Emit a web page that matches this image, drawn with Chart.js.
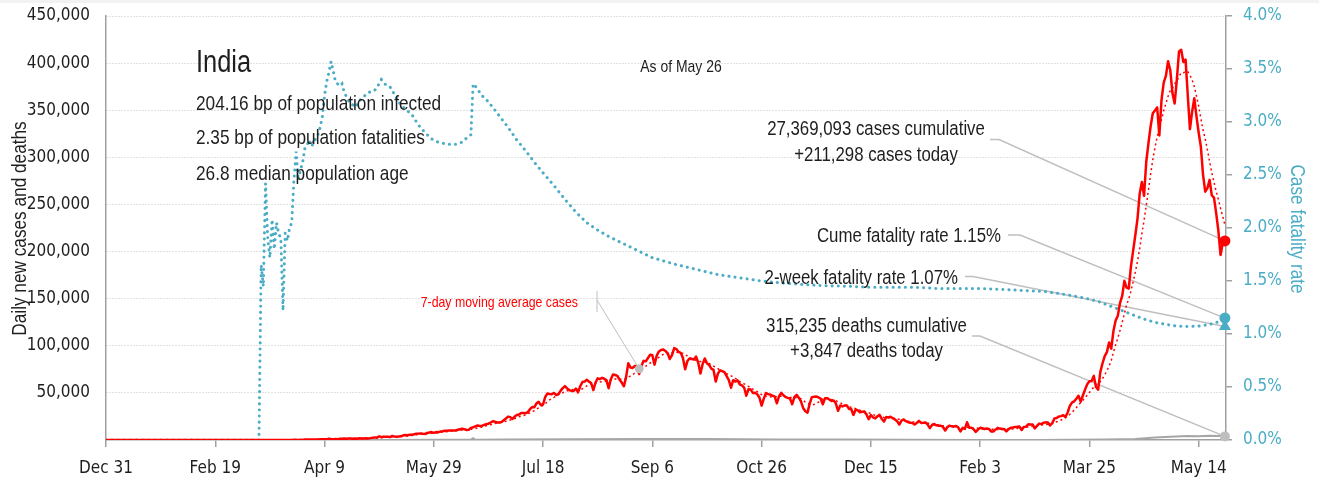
<!DOCTYPE html>
<html>
<head>
<meta charset="utf-8">
<title>India daily cases</title>
<script src="https://cdn.jsdelivr.net/npm/chart.js@4.4.1/dist/chart.umd.min.js"></script>
<style>
  html, body { margin: 0; padding: 0; background: #ffffff; }
  #chart { display: block; }
</style>
</head>
<body>
<canvas id="chart" width="1319" height="480"></canvas>
<script>
// x values are days counted from Dec 31, 2019
const xTickLabels = ["Dec 31", "Feb 19", "Apr 9", "May 29", "Jul 18", "Sep 6", "Oct 26", "Dec 15", "Feb 3", "Mar 25", "May 14"];

// daily new cases, one value per day from day 0
const dailyCases = [
  // Dec 31 - Jan 29
  0,0,0,0,0,0,0,0,0,0, 0,0,0,0,0,0,0,0,0,0, 0,0,0,0,0,0,0,0,0,1,
  // Jan 30 - Feb 29
  0,0,1,1,0,0,0,0,0,0, 0,0,0,0,0,0,0,0,0,0, 0,0,0,0,0,0,0,0,0,0, 0,
  // Mar
  2,1,22,2,1,3,5,9,15,8, 10,10,12,23,8,24,19,29,49,62, 75,77,89,103,75,149,164,106,227,146, 601,
  // Apr
  545,478,515,506,573,565,813,871,854,758, 1243,1031,886,1061,922,1370,1238,1540,1295,1543, 1567,1292,1667,1408,1835,1607,1568,1902,1705,1993,
  // May
  2293,2644,2573,3932,2963,3587,3364,3344,3113,4353, 3607,3524,3763,3942,4987,5242,4970,5611,5609,6088, 6654,6767,6977,6535,6387,7466,7964,8380,7572,8392, 8171,
  // Jun
  8909,9304,9851,9887,9971,9983,9987,9985,10956,11458, 11929,11502,10667,10974,12881,13586,14516,15413,14821,14933, 15968,16922,17296,18552,19906,19459,18522,18653,19148,20903,
  // Jul
  22771,24850,24248,22252,24879,26506,27114,28637,28701,28498, 29429,32695,34956,34884,38902,40425,37148,37724,45720,49310, 48916,48661,49931,47704,48513,52123,55078,57118,54735,52972, 52050,
  // Aug
  52000,54500,50500,57000,61500,62000,64000,62000,60500,53000, 61000,65500,64500,66000,65000,63500,55000,64500,69500,69000, 68000,64000,61000,57000,67000,81500,77000,76500,78500,78000, 70000,
  // Sep
  78500,84000,83500,87000,90500,90000,80000,89500,94000,95500, 96000,94500,92000,86000,90000,97500,96500,93500,92500,87000, 75000,83500,86500,86000,85500,88500,82000,70500,80500,86500,
  // Oct
  81500,79500,75800,74400,62000,70500,74000,73000,72000,67700, 63500,55500,63500,62000,63300,59000,58000,55700,47000,54000, 53500,50000,50100,48600,45100,36500,43900,49900,48600,48300, 47000,
  // Nov
  46000,39000,46500,50000,47500,45500,44700,44000,38000,45600, 47900,44900,41100,34000,30500,29000,38600,45500,45800,46200, 45200,44000,37900,44300,44400,43000,41300,41800,38700,31000,
  // Dec
  36600,35600,36600,36600,33000,32900,26600,32100,31500,29400, 30000,30300,27100,22100,26400,24000,22900,25200,26600,22300, 19600,24300,23950,24700,23100,21800,20000,16400,20500,21800, 20000,
  // Jan 2021
  19100,18200,18100,16500,18100,20300,18100,18200,18600,16300, 12600,15900,16900,15600,15200,15100,13800,10100,13800,15200, 14500,14300,14800,13200,9100,12700,11700,18800,13100,13000, 11400,
  // Feb
  8600,11000,12900,12400,11700,12100,11800,9100,9100,11000, 12900,12100,11700,11600,9100,11600,12900,13200,13900,13990, 14260,10580,13740,14200,16740,16580,16490,12286,
  // Mar
  14989,17407,16838,18327,18711,18599,15388,17921,22854,23285, 24882,25320,26291,24492,28903,35871,39726,40953,43846,46951, 40715,47262,53476,59118,62258,62714,68020,56211,53480,72330, 81466,
  // Apr
  89129,93249,103558,96982,115736,126789,131968,145384,152879,168912, 161736,160694,184372,200739,217353,234692,261500,273810,259170,295041, 314835,332730,346786,349691,352991,323144,360960,379257,386452,401993,
  // May 1 - May 26
  392488,368147,357229,382315,412262,414188,401078,403738,366161,329942, 348421,362727,343144,326098,311170,281386,263533,267334,276110,259551, 257299,240842,222315,196427,208921,211298
];

// daily deaths
const deathDays = [0, 70, 92, 122, 153, 167, 168, 169, 183, 214, 245, 260, 275, 306, 336, 367, 398, 426, 457, 471, 480, 487, 495, 500, 505, 510, 512];
const dailyDeaths = [0, 0, 20, 80, 220, 340, 2000, 330, 440, 770, 1050, 1150, 1150, 470, 480, 240, 110, 110, 460, 1030, 2770, 3500, 4200, 4100, 4500, 4150, 3847];

// cumulative case fatality rate, %
const cfrDays = [
  0, 70, 71, 72, 73, 74, 75, 76, 77, 78,
  79, 80, 81, 82, 83, 84, 85, 86, 87, 88,
  89, 90, 91, 92, 93, 94, 95, 96, 97, 98,
  99, 100, 101, 102, 103, 104, 105, 106, 107, 108,
  109, 110, 111, 112, 113, 114, 115, 116, 117, 118,
  119, 120, 121, 122, 123, 125, 126, 127, 128, 129,
  130, 132, 133, 135, 137, 140, 143, 146, 149, 152,
  156, 160, 163, 165, 167, 168, 169, 170, 172, 175,
  178, 181, 184, 188, 192, 196, 200, 205, 210, 215,
  220, 225, 230, 235, 240, 245, 250, 260, 270, 280,
  290, 300, 310, 320, 330, 340, 350, 360, 370, 380,
  400, 420, 430, 440, 450, 455, 460, 465, 470, 475,
  480, 485, 490, 495, 500, 505, 510, 512
];
const cfrRates = [
  0, 0, 1.65, 1.45, 2.42, 1.9, 1.72, 2.08, 1.8, 2.05,
  1.95, 1.9, 1.22, 1.95, 1.88, 2.0, 2.05, 2.45, 2.72, 2.45,
  2.55, 2.62, 2.75, 2.78, 2.83, 2.77, 2.8, 2.85, 2.88, 2.95,
  3.05, 3.25, 3.38, 3.47, 3.57, 3.48, 3.38, 3.36, 3.34, 3.36,
  3.28, 3.24, 3.2, 3.17, 3.16, 3.14, 3.17, 3.2, 3.22, 3.24,
  3.26, 3.27, 3.29, 3.3, 3.3, 3.36, 3.4, 3.38, 3.35, 3.34,
  3.33, 3.26, 3.22, 3.16, 3.12, 3.07, 2.97, 2.9, 2.84, 2.81,
  2.79, 2.79, 2.81, 2.85, 2.88, 3.36, 3.34, 3.31, 3.25, 3.19,
  3.11, 3.03, 2.95, 2.83, 2.73, 2.62, 2.52, 2.4, 2.27, 2.15,
  2.05, 1.98, 1.92, 1.87, 1.82, 1.77, 1.72, 1.66, 1.61, 1.56,
  1.53, 1.5, 1.48, 1.465, 1.455, 1.45, 1.44, 1.44, 1.44, 1.43,
  1.43, 1.41, 1.4, 1.37, 1.33, 1.3, 1.26, 1.22, 1.18, 1.14,
  1.11, 1.09, 1.075, 1.07, 1.075, 1.09, 1.12, 1.15
];

// latest figures
const lastDay = 512;
const casesCumulative = 27369093;
const casesToday = 211298;
const deathsCumulative = 315235;
const deathsToday = 3847;
const cumeFatality = 1.15;
const twoWeekFatality = 1.07;
const infectedBp = 204.16;
const fatalitiesBp = 2.35;
const medianAge = 26.8;
const asOfLabel = "May 26";
const avgMarkerDay = 244;

const RED = "#ff0000";
const BLUE = "#4bacc6";
const GRAY = "#bfbfbf";
const AXIS = "#a0a0a0";
const INK = "#1e1e1e";
const SANS = '"Liberation Sans", Arial, sans-serif';
const NARROW_SCALE = 0.82; // squeeze Liberation Sans to a narrow face
const TICKFONT = '"DejaVu Sans Condensed", "DejaVu Sans", sans-serif';

// 7-day moving average of the daily cases
const avgCases = dailyCases.map((_, i) => {
  const win = dailyCases.slice(Math.max(0, i - 6), i + 1);
  return win.reduce((a, b) => a + b, 0) / win.length;
});

const toPoints = (days, vals) => days.map((d, i) => ({ x: d, y: vals[i] }));
const fmt = (n) => n.toLocaleString("en-US");

const background = {
  id: "background",
  beforeDraw(chart) {
    const { ctx, width, height } = chart;
    ctx.save();
    ctx.fillStyle = "#ffffff";
    ctx.fillRect(0, 0, width, height);
    ctx.fillStyle = "#f2f2f2";
    ctx.fillRect(0, 0, width, 3);
    ctx.restore();
  }
};

// narrow text: scale horizontally around the anchor point
function drawText(ctx, str, x, y, size, color, align) {
  ctx.save();
  ctx.translate(x, y);
  ctx.scale(NARROW_SCALE, 1);
  ctx.font = `${size}px ${SANS}`;
  ctx.fillStyle = color;
  ctx.textAlign = align || "left";
  ctx.textBaseline = "alphabetic";
  ctx.fillText(str, 0, 0);
  ctx.restore();
}

function leader(ctx, pts) {
  ctx.beginPath();
  ctx.moveTo(pts[0][0], pts[0][1]);
  pts.slice(1).forEach((p) => ctx.lineTo(p[0], p[1]));
  ctx.stroke();
}

// leader lines go under the series, labels on top
const annotations = {
  id: "annotations",
  beforeDatasetsDraw(chart) {
    const { ctx, scales: { x, y, y2 } } = chart;
    const ex = x.getPixelForValue(lastDay);
    ctx.save();
    ctx.strokeStyle = GRAY;
    ctx.lineWidth = 1.5;
    leader(ctx, [[990, 139.5], [999, 139.5], [ex, y.getPixelForValue(casesToday)]]);
    leader(ctx, [[1008, 235], [1020, 235], [ex, y2.getPixelForValue(cumeFatality)]]);
    leader(ctx, [[965, 276.5], [973, 276.5], [ex, y2.getPixelForValue(twoWeekFatality)]]);
    leader(ctx, [[972, 336], [980, 336], [ex, y.getPixelForValue(deathsToday)]]);
    ctx.lineWidth = 1;
    leader(ctx, [[597, 291], [597, 312]]);
    leader(ctx, [[597, 300], [x.getPixelForValue(avgMarkerDay), y.getPixelForValue(avgCases[avgMarkerDay])]]);
    ctx.restore();
  },
  afterDatasetsDraw(chart) {
    const { ctx } = chart;
    ctx.save();
    drawText(ctx, "India", 196, 72, 31, INK);
    drawText(ctx, `${infectedBp.toFixed(2)} bp of population infected`, 196, 110, 21, INK);
    drawText(ctx, `${fatalitiesBp.toFixed(2)} bp of population fatalities`, 196, 144, 21, INK);
    drawText(ctx, `${medianAge.toFixed(1)} median population age`, 196, 180, 21, INK);
    drawText(ctx, `As of ${asOfLabel}`, 681, 71.5, 17, INK, "center");

    drawText(ctx, `${fmt(casesCumulative)} cases cumulative`, 876, 135, 20.5, INK, "center");
    drawText(ctx, `+${fmt(casesToday)} cases today`, 876, 160.5, 20.5, INK, "center");
    drawText(ctx, `Cume fatality rate ${cumeFatality.toFixed(2)}%`, 1001, 242, 20.5, INK, "right");
    drawText(ctx, `2-week fatality rate ${twoWeekFatality.toFixed(2)}%`, 958, 284, 20.5, INK, "right");
    drawText(ctx, `${fmt(deathsCumulative)} deaths cumulative`, 866.5, 331.5, 20.5, INK, "center");
    drawText(ctx, `+${fmt(deathsToday)} deaths today`, 866.5, 356.5, 20.5, INK, "center");
    drawText(ctx, "7-day moving average cases", 578, 306.5, 15, RED, "right");

    // axis titles
    ctx.save();
    ctx.translate(25.5, 228.5);
    ctx.rotate(-Math.PI / 2);
    drawText(ctx, "Daily new cases and deaths", 0, 0, 21, INK, "center");
    ctx.restore();
    ctx.save();
    ctx.translate(1291, 229);
    ctx.rotate(Math.PI / 2);
    drawText(ctx, "Case fatality rate", 0, 0, 21, BLUE, "center");
    ctx.restore();
    ctx.restore();
  }
};

const tickFont = { family: TICKFONT, size: 17 };

// fixed axis sizes so the plot spans x 106..1226, y 16..440
const fitVertical = (w) => (s) => {
  s.width = w;
  s.paddingTop = 0;
  s.paddingBottom = 0;
};

// end-of-series marker, drawn unclipped so it can sit on the axis line
const marker = (label, point, axis, color, radius, style) => ({
  label,
  type: "scatter",
  data: [point],
  pointStyle: style || "circle",
  pointRadius: radius,
  pointBackgroundColor: color,
  pointBorderWidth: 0,
  yAxisID: axis,
  clip: false,
  order: 0
});

new Chart(document.getElementById("chart"), {
  type: "line",
  data: {
    datasets: [
      marker("Cases today", { x: lastDay, y: casesToday }, "y", RED, 5.5),
      marker("Deaths today", { x: lastDay, y: deathsToday }, "y", GRAY, 5),
      marker("Cume fatality rate", { x: lastDay, y: cumeFatality }, "y2", BLUE, 5.5),
      marker("2-week fatality rate", { x: lastDay, y: twoWeekFatality }, "y2", BLUE, 7, "triangle"),
      marker("7-day average", { x: avgMarkerDay, y: avgCases[avgMarkerDay] }, "y", GRAY, 4.5),
      {
        label: "Daily new cases",
        data: dailyCases.map((v, i) => ({ x: i, y: v })),
        borderColor: RED,
        borderWidth: 2.5,
        borderJoinStyle: "round",
        pointRadius: 0,
        yAxisID: "y",
        order: 2
      },
      {
        label: "7-day moving average cases",
        data: avgCases.map((v, i) => ({ x: i, y: v })),
        borderColor: RED,
        borderWidth: 1.5,
        borderDash: [2, 3],
        pointRadius: 0,
        yAxisID: "y",
        order: 3
      },
      {
        label: "Daily deaths",
        data: toPoints(deathDays, dailyDeaths),
        borderColor: "#a6a6a6",
        borderWidth: 2,
        pointRadius: 0,
        yAxisID: "y",
        order: 4
      },
      {
        label: "Case fatality rate",
        data: toPoints(cfrDays, cfrRates),
        borderColor: BLUE,
        borderWidth: 3,
        borderDash: [0.1, 6],
        borderCapStyle: "round",
        pointRadius: 0,
        yAxisID: "y2",
        order: 5
      }
    ]
  },
  options: {
    responsive: false,
    animation: false,
    devicePixelRatio: 1,
    events: [],
    layout: { padding: { top: 16, left: 0, right: 0, bottom: 0 } },
    plugins: { legend: { display: false }, tooltip: { enabled: false } },
    scales: {
      x: {
        type: "linear",
        min: 0,
        max: 512.5,
        afterBuildTicks: (s) => { s.ticks = xTickLabels.map((_, i) => ({ value: i * 50 })); },
        afterFit: (s) => { s.height = 40; s.paddingLeft = 0; s.paddingRight = 0; },
        grid: { drawOnChartArea: false, drawTicks: true, tickLength: 7, color: AXIS, lineWidth: 1.5 },
        border: { color: AXIS, width: 1.5 },
        ticks: {
          callback: (v) => xTickLabels[Math.round(v / 50)],
          font: tickFont,
          color: INK,
          padding: 11,
          maxRotation: 0,
          autoSkip: false
        }
      },
      y: {
        position: "left",
        min: 0,
        max: 450000,
        afterFit: fitVertical(106),
        grid: {
          drawTicks: false,
          color: (c) => (c.tick && c.tick.value === 0 ? "rgba(0,0,0,0)" : "#c4c4c4"),
          lineWidth: 1
        },
        border: { color: AXIS, width: 1.5, dash: [1, 2] },
        ticks: {
          stepSize: 50000,
          callback: (v) => (v === 0 ? "" : fmt(v)),
          font: tickFont,
          color: INK,
          padding: 16
        }
      },
      y2: {
        position: "right",
        min: 0,
        max: 4,
        afterFit: fitVertical(93),
        grid: { drawOnChartArea: false, drawTicks: true, tickLength: 6, color: AXIS, lineWidth: 1.5 },
        border: { color: AXIS, width: 1.5 },
        ticks: {
          stepSize: 0.5,
          callback: (v) => v.toFixed(1) + "%",
          font: tickFont,
          color: BLUE,
          padding: 11
        }
      }
    }
  },
  plugins: [background, annotations]
});
</script>
</body>
</html>
